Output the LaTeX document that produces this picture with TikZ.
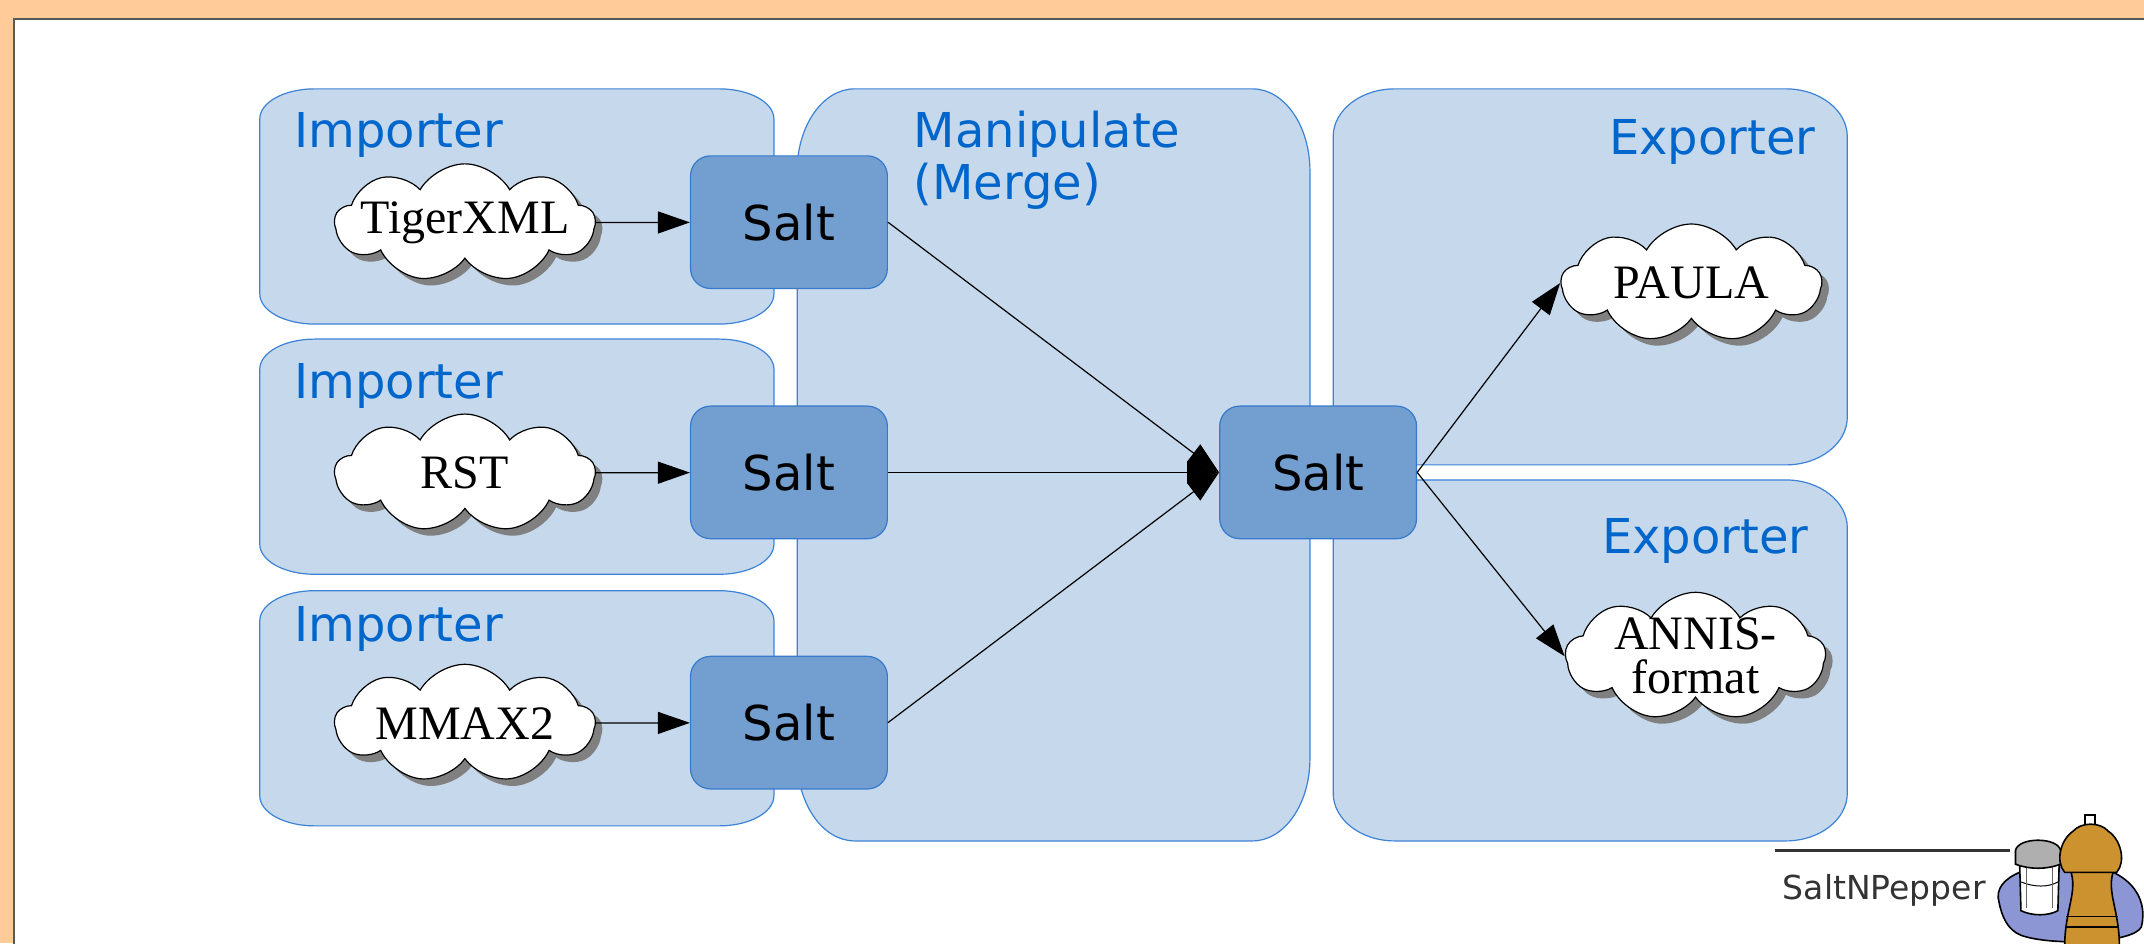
\documentclass[tikz,border=0pt]{standalone}
\usepackage{fontspec}
\setmainfont{DejaVu Sans}
\newfontfamily\cloudfont{Liberation Serif}
\usetikzlibrary{arrows.meta,shapes.symbols,shadows}

\definecolor{pagebg}{RGB}{255,204,153}
\definecolor{grpfill}{RGB}{198,217,236}
\definecolor{grpline}{RGB}{60,130,215}
\definecolor{saltfill}{RGB}{114,159,207}
\definecolor{saltline}{RGB}{55,122,205}
\definecolor{titleblue}{RGB}{0,102,204}
\definecolor{shadowgray}{RGB}{128,128,128}
\definecolor{platefill}{RGB}{140,150,212}
\definecolor{lidgray}{RGB}{175,175,175}
\definecolor{millfill}{RGB}{204,146,48}

\tikzset{
  grp/.style={fill=grpfill, draw=grpline, line width=0.6pt},
  grptitle/.style={text=titleblue, font=\fontsize{24}{26}\selectfont, inner sep=0pt, align=left},
  saltbox/.style={draw=saltline, fill=saltfill, line width=0.6pt, rounded corners=10pt,
    minimum width=98.4pt, minimum height=66.3pt, font=\fontsize{24}{26}\selectfont},
  format/.style={cloud, cloud puffs=9, cloud puff arc=120, aspect=2.2, draw=black, fill=white,
    line width=0.6pt, minimum width=130pt, minimum height=59pt, inner xsep=-40pt, inner ysep=-14pt,
    align=center, font=\cloudfont\fontsize{24}{22}\selectfont,
    drop shadow={shadow xshift=3.5pt, shadow yshift=-3.5pt, fill=shadowgray, opacity=1}},
  flow/.style={-{Triangle[length=16pt,width=11pt]}, line width=0.6pt},
}

% group box with elliptic corners: x1 y1 x2 y2 rx ry
\newcommand{\grpbox}[6]{%
  \draw[grp] (#1+#5,#2) -- (#3-#5,#2)
    arc[start angle=-90, end angle=0, x radius=#5, y radius=#6] -- (#3,#4-#6)
    arc[start angle=0, end angle=90, x radius=#5, y radius=#6] -- (#1+#5,#4)
    arc[start angle=90, end angle=180, x radius=#5, y radius=#6] -- (#1,#2+#6)
    arc[start angle=180, end angle=270, x radius=#5, y radius=#6] -- cycle;}

\begin{document}
\begin{tikzpicture}[x=0.6835pt, y=-0.6835pt]
  \useasboundingbox (0,0) rectangle (1568,690);
  \fill[pagebg] (0,0) rectangle (1568,690);
  \draw[fill=white, draw=black!65, line width=1pt] (10,14) rectangle (1600,720);

  % group boxes
  \grpbox{190}{65}{566}{237}{40}{22}
  \grpbox{190}{248}{566}{420}{40}{22}
  \grpbox{190}{432}{566}{604}{40}{22}
  \grpbox{583}{65}{958}{615}{42}{60}
  \grpbox{975}{65}{1351}{340}{45}{35}
  \grpbox{975}{351}{1351}{615}{45}{35}

  \node[grptitle, anchor=west] (imp1) at (215,99) {Importer};
  \node[grptitle, anchor=west] (imp2) at (215,282) {Importer};
  \node[grptitle, anchor=west] (imp3) at (215,460) {Importer};
  \node[grptitle, anchor=north west] (manip) at (668,81) {Manipulate\\(Merge)};
  \node[grptitle, anchor=east] (exp1) at (1328,104) {Exporter};
  \node[grptitle, anchor=east] (exp2) at (1323,396) {Exporter};

  % input formats
  \node[format] (tiger) at (340,163) {TigerXML};
  \node[format] (rst) at (340,346) {RST};
  \node[format] (mmax) at (340,529) {MMAX2};

  % salt models
  \node[saltbox] (salt1) at (577,162.5) {Salt};
  \node[saltbox] (salt2) at (577,345.5) {Salt};
  \node[saltbox] (salt3) at (577,528.5) {Salt};
  \node[saltbox] (merged) at (964,345.5) {Salt};

  % output formats
  \node[format] (paula) at (1237,207) {PAULA};
  \node[format, minimum height=64pt] (annis) at (1240,480) {ANNIS-\\format};

  \draw[flow] (tiger) -- (salt1);
  \draw[flow] (rst) -- (salt2);
  \draw[flow] (mmax) -- (salt3);
  \draw[flow] (salt1.east) -- (merged.west);
  \draw[flow] (salt2.east) -- (merged.west);
  \draw[flow] (salt3.east) -- (merged.west);
  \draw[flow] (merged.east) -- (paula.west);
  \draw[flow] (merged.east) -- (annis.west);

  % logo
  \draw[line width=1.4pt, black!80] (1298,622) -- (1470,622);
  \node[text=black!80, font=\fontsize{16.5}{18}\selectfont] (logo) at (1378,651) {SaltNPepper};

  \draw[fill=platefill, line width=0.8pt] (1462,660) .. controls (1456,640) and (1490,630) .. (1520,632)
    .. controls (1555,634) and (1572,655) .. (1566,678) .. controls (1560,690) and (1500,692) .. (1478,684)
    .. controls (1468,680) and (1464,670) .. (1462,660) -- cycle;
  % salt shaker
  \draw[fill=white, line width=0.8pt] (1477,630) -- (1478,666) .. controls (1486,670) and (1498,670) .. (1505,666)
    -- (1506,630) -- cycle;
  \draw[line width=0.5pt] (1478,645) .. controls (1488,649) and (1498,649) .. (1505,645);
  \draw[line width=0.4pt, black!60] (1482,634) -- (1482,664) (1501,634) -- (1501,664);
  \draw[fill=lidgray, line width=0.8pt] (1474,632) -- (1474,622) .. controls (1476,612) and (1505,612) .. (1507,622)
    -- (1507,632) .. controls (1497,636) and (1484,636) .. (1474,632) -- cycle;
  % pepper mill
  \draw[fill=white, line width=0.8pt] (1525,596) rectangle (1532,604);
  \draw[fill=millfill, line width=0.8pt] (1514,636) .. controls (1520,652) and (1510,665) .. (1510,692)
    -- (1550,692) .. controls (1550,665) and (1540,652) .. (1546,636) -- cycle;
  \draw[fill=millfill, line width=0.8pt] (1510,638) .. controls (1503,630) and (1507,614) .. (1516,608)
    .. controls (1522,601) and (1536,601) .. (1542,608) .. controls (1551,614) and (1555,630) .. (1548,638) -- cycle;
  \draw[line width=0.6pt] (1511,670) -- (1549,670) (1510,678) -- (1550,678);
\end{tikzpicture}
\end{document}
